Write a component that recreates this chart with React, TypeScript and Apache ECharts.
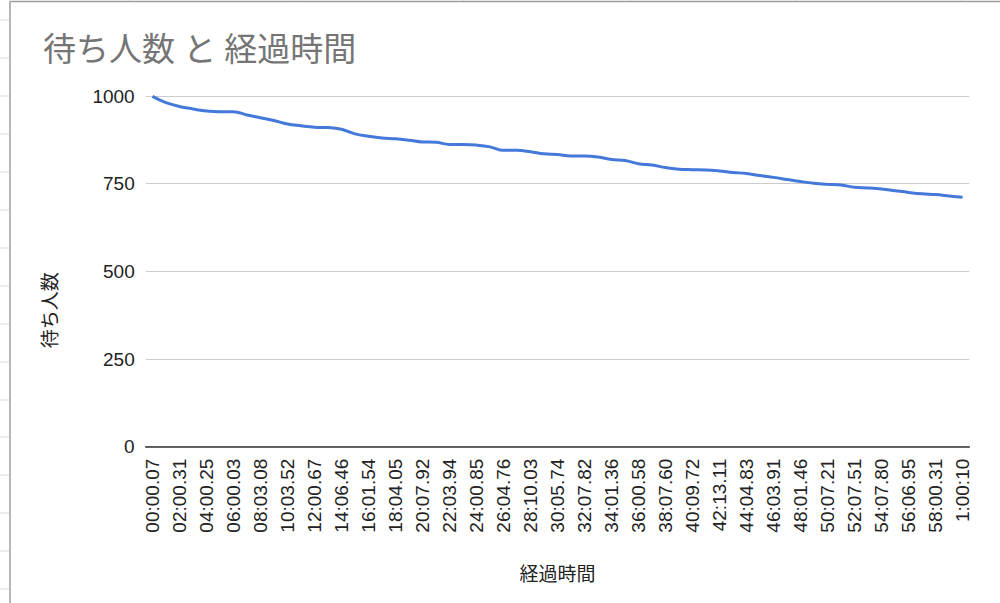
import React, { useEffect, useRef } from "react";
import * as echarts from "echarts";

const times = [
  "00:00.07", "01:00.44", "02:00.31", "03:00.18", "04:00.25", "05:00.09", "06:00.03", "07:01.52",
  "08:03.08", "09:02.27", "10:03.52", "11:01.85", "12:00.67", "13:03.40", "14:06.46", "15:04.11",
  "16:01.54", "17:02.73", "18:04.05", "19:05.66", "20:07.92", "21:06.08", "22:03.94", "23:02.15",
  "24:00.85", "25:03.47", "26:04.76", "27:07.29", "28:10.03", "29:08.64", "30:05.74", "31:06.90",
  "32:07.82", "33:04.58", "34:01.36", "35:00.97", "36:00.58", "37:03.81", "38:07.60", "39:08.36",
  "40:09.72", "41:11.45", "42:13.11", "43:09.02", "44:04.83", "45:04.27", "46:03.91", "47:02.69",
  "48:01.46", "49:04.33", "50:07.21", "51:07.38", "52:07.51", "53:07.66", "54:07.80", "55:07.41",
  "56:06.95", "57:03.62", "58:00.31", "59:00.20", "1:00:10",
];

const waiting = [
  999, 981, 970, 963, 957, 955, 955, 946, 938, 930,
  920, 915, 911, 910, 905, 892, 885, 880, 878, 874,
  869, 868, 862, 862, 860, 855, 845, 845, 841, 835,
  833, 829, 829, 826, 819, 816, 807, 803, 796, 791,
  790, 789, 786, 782, 779, 773, 768, 762, 756, 751,
  748, 746, 740, 738, 735, 730, 725, 721, 719, 715,
  711,
];

const yTicks = { min: 0, max: 1000, interval: 250 };

const sheetRowYs = [20, 58, 96, 134, 172, 210, 248, 286, 324, 362, 400, 437, 475, 513, 551, 589];
const sheetColXs = [130, 296, 463, 630, 796, 962];

export default function App() {
  const ref = useRef<HTMLDivElement>(null);
  useEffect(() => {
    if (!ref.current) return;
    const chart = echarts.init(ref.current, undefined, { renderer: "svg" });
    const graphics: any[] = [];
    sheetRowYs.forEach((y) =>
      graphics.push({
        type: "line",
        shape: { x1: 0, y1: y, x2: 9, y2: y },
        style: { stroke: "#dadada", lineWidth: 1 },
        silent: true,
      })
    );
    sheetColXs.forEach((x) =>
      graphics.push({
        type: "line",
        shape: { x1: x, y1: 0, x2: x, y2: 1 },
        style: { stroke: "#dadada", lineWidth: 1 },
        silent: true,
      })
    );
    graphics.push({
      type: "polyline",
      shape: { points: [[10, 603], [10, 1.5], [1000, 1.5]] },
      style: { stroke: "#9e9e9e", lineWidth: 1.5, fill: "none" },
      silent: true,
    });
    chart.setOption({
      animation: false,
      backgroundColor: "#ffffff",
      title: {
        text: "待ち人数 と 経過時間",
        left: 38,
        top: 28,
        textStyle: {
          fontFamily: "Roboto, 'Noto Sans CJK JP', sans-serif",
          fontSize: 33,
          fontWeight: "normal",
          color: "#757575",
        },
      },
      graphic: graphics,
      grid: { left: 145.7, right: 30.7, top: 96, bottom: 156.3, containLabel: false },
      xAxis: {
        type: "category",
        data: times,
        boundaryGap: true,
        name: "経過時間",
        nameLocation: "middle",
        nameGap: 116,
        nameTextStyle: {
          fontFamily: "'Noto Sans CJK JP', sans-serif",
          fontSize: 19,
          color: "#222222",
          verticalAlign: "top",
        },
        axisLine: { show: true, lineStyle: { color: "#333333", width: 1.5 } },
        axisTick: { show: false },
        axisLabel: {
          interval: 1,
          rotate: 90,
          margin: 12,
          fontFamily: "'Liberation Sans', Arial, sans-serif",
          fontSize: 19,
          color: "#222222",
        },
        splitLine: { show: false },
      },
      yAxis: {
        type: "value",
        min: yTicks.min,
        max: yTicks.max,
        interval: yTicks.interval,
        name: "待ち人数",
        nameLocation: "middle",
        nameRotate: 90,
        nameGap: 88,
        nameTextStyle: {
          fontFamily: "'Noto Sans CJK JP', sans-serif",
          fontSize: 19,
          color: "#222222",
          padding: [0, 78, 0, 0],
        },
        axisLine: { show: false },
        axisTick: { show: false },
        axisLabel: {
          margin: 11,
          formatter: (v: number) => String(v),
          fontFamily: "'Liberation Sans', Arial, sans-serif",
          fontSize: 19,
          color: "#222222",
        },
        splitLine: { show: true, lineStyle: { color: "#cccccc", width: 1 } },
      },
      series: [
        {
          type: "line",
          data: waiting,
          smooth: 0.4,
          showSymbol: false,
          symbol: "none",
          lineStyle: { color: "#4479d9", width: 3 },
          itemStyle: { color: "#4479d9" },
        },
      ],
    });
    return () => chart.dispose();
  }, []);
  return (
    <div
      ref={ref}
      style={{ position: "fixed", left: 0, top: 0, width: 1000, height: 603, background: "#fff" }}
    />
  );
}
